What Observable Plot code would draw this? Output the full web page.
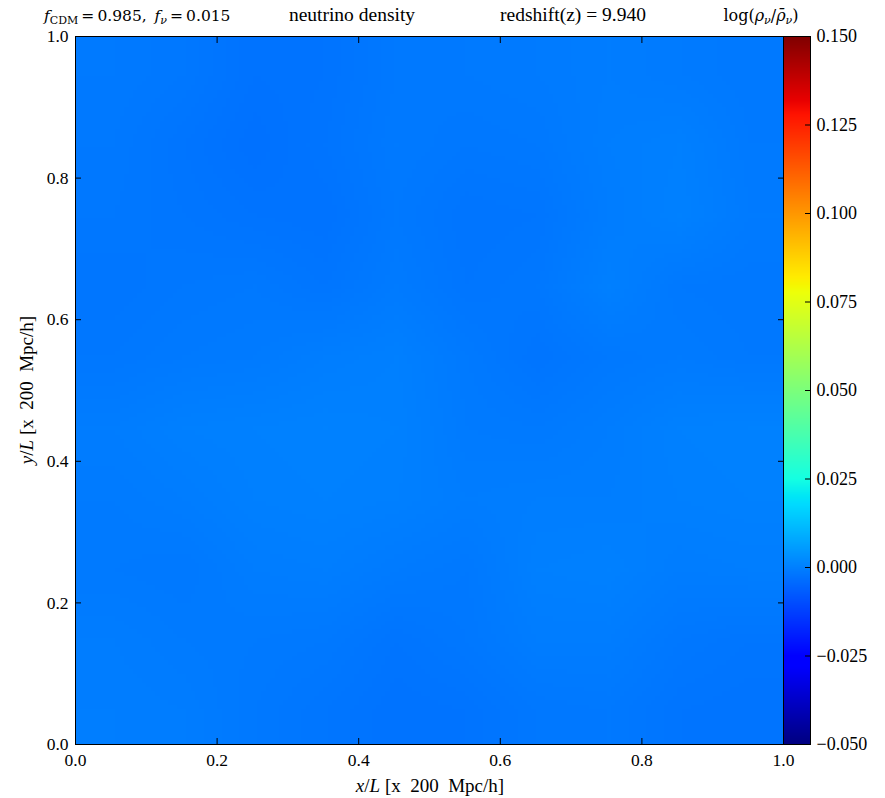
<!DOCTYPE html>
<html>
<head>
<meta charset="utf-8">
<script src="https://cdn.jsdelivr.net/npm/d3@7"></script>
<script src="https://cdn.jsdelivr.net/npm/@observablehq/plot@0.6"></script>
<style>
  body { margin: 0; background: #fff; }
  #chart { position: relative; width: 885px; height: 798px; }
  #chart svg { position: absolute; top: 0; overflow: visible; }
</style>
</head>
<body>
<div id="chart"></div>
<script>
// Axis ticks (box coordinates in units of L) and colour bar ticks
const xTicks = [0, 0.2, 0.4, 0.6, 0.8, 1.0];
const yTicks = [0, 0.2, 0.4, 0.6, 0.8, 1.0];
const colorTicks = [-0.05, -0.025, 0, 0.025, 0.05, 0.075, 0.1, 0.125, 0.15];
const colorDomain = [-0.05, 0.15];

// Projected neutrino overdensity log(rho_nu / mean rho_nu) on a coarse grid,
// rows from y/L = 0.95 (top) down to y/L = 0.05, columns x/L = 0.05 ... 0.95
const gridCols = 10;
const gridRows = 10;
const row095 = [-0.0010, -0.0015, -0.0025, -0.0022, -0.0012, -0.0010, -0.0008, -0.0005, -0.0008, -0.0012];
const row085 = [-0.0012, -0.0020, -0.0028, -0.0020, -0.0010, -0.0015, -0.0012, -0.0002,  0.0000, -0.0010];
const row075 = [-0.0015, -0.0018, -0.0022, -0.0025, -0.0012, -0.0020, -0.0018, -0.0005,  0.0002, -0.0008];
const row065 = [-0.0018, -0.0015, -0.0012, -0.0018, -0.0008, -0.0018, -0.0015,  0.0000, -0.0012, -0.0015];
const row055 = [-0.0015, -0.0010, -0.0008, -0.0002,  0.0000, -0.0010, -0.0020, -0.0012, -0.0008, -0.0012];
const row045 = [-0.0005,  0.0000,  0.0002,  0.0005,  0.0003, -0.0008, -0.0010, -0.0005,  0.0002,  0.0005];
const row035 = [-0.0008, -0.0005,  0.0000,  0.0002,  0.0000, -0.0005, -0.0002, -0.0003,  0.0000,  0.0003];
const row025 = [-0.0010, -0.0012, -0.0005, -0.0003, -0.0008, -0.0012,  0.0000,  0.0002, -0.0005, -0.0002];
const row015 = [-0.0005, -0.0008, -0.0010, -0.0012, -0.0020, -0.0015, -0.0005, -0.0005, -0.0015, -0.0018];
const row005 = [-0.0002, -0.0005, -0.0012, -0.0018, -0.0025, -0.0022, -0.0015, -0.0012, -0.0020, -0.0022];
const density = [row095, row085, row075, row065, row055, row045, row035, row025, row015, row005].flat();

// matplotlib "jet" colormap
function jet(t) {
  const c = (v) => Math.max(0, Math.min(1, v));
  const r = c(t < 0.35 ? 0 : t < 0.66 ? (t - 0.35) / 0.31 : t < 0.89 ? 1 : 1 - (t - 0.89) / 0.11 * 0.5);
  const g = c(t < 0.125 ? 0 : t < 0.375 ? (t - 0.125) / 0.25 : t < 0.64 ? 1 : t < 0.91 ? 1 - (t - 0.64) / 0.27 : 0);
  const b = c(t < 0.11 ? 0.5 + t / 0.11 * 0.5 : t < 0.34 ? 1 : t < 0.65 ? 1 - (t - 0.34) / 0.31 : 0);
  return `rgb(${Math.round(r * 255)},${Math.round(g * 255)},${Math.round(b * 255)})`;
}

const colorScale = { type: "linear", domain: colorDomain, interpolate: jet, clamp: true };
const font = "'Liberation Serif', 'DejaVu Serif', serif";
const mathFont = "'DejaVu Serif', serif";
const tickLen = 6;
const fmt1 = d3.format(".1f");
const fmt3 = d3.format(".3f");

const main = Plot.plot({
  width: 885,
  height: 798,
  marginLeft: 75,
  marginRight: 102,
  marginTop: 36,
  marginBottom: 54,
  style: { fontFamily: font, background: "transparent", color: "black" },
  x: { domain: [0, 1] },
  y: { domain: [0, 1] },
  color: colorScale,
  marks: [
    Plot.raster(density, { width: gridCols, height: gridRows, x1: 0, y1: 1, x2: 1, y2: 0, fill: (d) => d }),
    // tick labels
    Plot.axisX(xTicks, { anchor: "bottom", tickSize: 0, tickPadding: 9, tickFormat: fmt1, fontSize: 17.5, label: null }),
    Plot.axisY(yTicks, { anchor: "left", tickSize: 0, tickPadding: 7, tickFormat: fmt1, fontSize: 17.5, label: null }),
    // inward ticks on all four sides
    Plot.axisX(xTicks, { anchor: "bottom", tickSize: tickLen, dy: -tickLen, text: null, label: null, stroke: "black" }),
    Plot.axisX(xTicks, { anchor: "top", tickSize: tickLen, dy: tickLen, text: null, label: null, stroke: "black" }),
    Plot.axisY(yTicks, { anchor: "left", tickSize: tickLen, dx: tickLen, text: null, label: null, stroke: "black" }),
    Plot.axisY(yTicks, { anchor: "right", tickSize: tickLen, dx: -tickLen, text: null, label: null, stroke: "black" }),
    Plot.frame({ stroke: "black", strokeWidth: 1 })
  ]
});

const bar = Plot.plot({
  width: 103,
  height: 798,
  marginLeft: 1,
  marginRight: 75,
  marginTop: 36,
  marginBottom: 54,
  style: { fontFamily: font, background: "transparent", color: "black" },
  x: { domain: [0, 1], axis: null },
  y: { domain: colorDomain },
  color: colorScale,
  marks: [
    Plot.raster({ fill: (x, y) => y, x1: 0, x2: 1, y1: colorDomain[0], y2: colorDomain[1], pixelSize: 1 }),
    Plot.axisY(colorTicks, { anchor: "right", tickSize: 0, tickPadding: 6, tickFormat: fmt3, fontSize: 18, label: null }),
    Plot.axisY(colorTicks, { anchor: "right", tickSize: tickLen, dx: -tickLen, text: null, label: null, stroke: "black" }),
    Plot.frame({ stroke: "black", strokeWidth: 1 })
  ]
});
bar.style.left = "782px";

const chart = document.getElementById("chart");
chart.append(main, bar);

// Header line and axis titles
const svg = d3.select(main);
const header = svg.append("g").attr("font-family", font).attr("fill", "black");

const fText = header.append("text").attr("x", 44).attr("y", 21).attr("text-anchor", "start")
  .attr("font-family", mathFont).attr("font-size", 15.5);
fText.append("tspan").attr("font-style", "italic").text("f");
fText.append("tspan").attr("font-size", 11).attr("dy", 3).text("CDM");
fText.append("tspan").attr("dy", -3).text("\u2009=\u20090.985,\u2002");
fText.append("tspan").attr("font-style", "italic").text("f");
fText.append("tspan").attr("font-size", 11).attr("dy", 3).attr("font-style", "italic").text("\u03bd");
fText.append("tspan").attr("dy", -3).text("\u2009=\u20090.015");

header.append("text").attr("x", 352).attr("y", 21).attr("text-anchor", "middle").attr("font-size", 19.5)
  .text("neutrino density");
header.append("text").attr("x", 573).attr("y", 21).attr("text-anchor", "middle").attr("font-size", 19.5)
  .text("redshift(z) = 9.940");

const logText = header.append("text").attr("x", 761).attr("y", 21).attr("text-anchor", "middle")
  .attr("font-family", mathFont).attr("font-size", 16);
logText.append("tspan").text("log(");
logText.append("tspan").attr("font-style", "italic").text("\u03c1");
logText.append("tspan").attr("font-size", 11).attr("dy", 3).attr("font-style", "italic").text("\u03bd");
logText.append("tspan").attr("dy", -3).text("/");
logText.append("tspan").attr("font-style", "italic").text("\u03c1\u0304");
logText.append("tspan").attr("font-size", 11).attr("dy", 3).attr("font-style", "italic").text("\u03bd");
logText.append("tspan").attr("dy", -3).text(")");

const xLab = header.append("text").attr("x", 430).attr("y", 792).attr("text-anchor", "middle").attr("font-size", 19);
xLab.append("tspan").attr("font-style", "italic").text("x");
xLab.append("tspan").text("/");
xLab.append("tspan").attr("font-style", "italic").text("L");
xLab.append("tspan").text(" [x\u00a0\u00a0200\u00a0\u00a0Mpc/h]");

const yLab = header.append("text").attr("transform", "translate(33,390) rotate(-90)").attr("text-anchor", "middle").attr("font-size", 19);
yLab.append("tspan").attr("font-style", "italic").text("y");
yLab.append("tspan").text("/");
yLab.append("tspan").attr("font-style", "italic").text("L");
yLab.append("tspan").text(" [x\u00a0\u00a0200\u00a0\u00a0Mpc/h]");
</script>
</body>
</html>
